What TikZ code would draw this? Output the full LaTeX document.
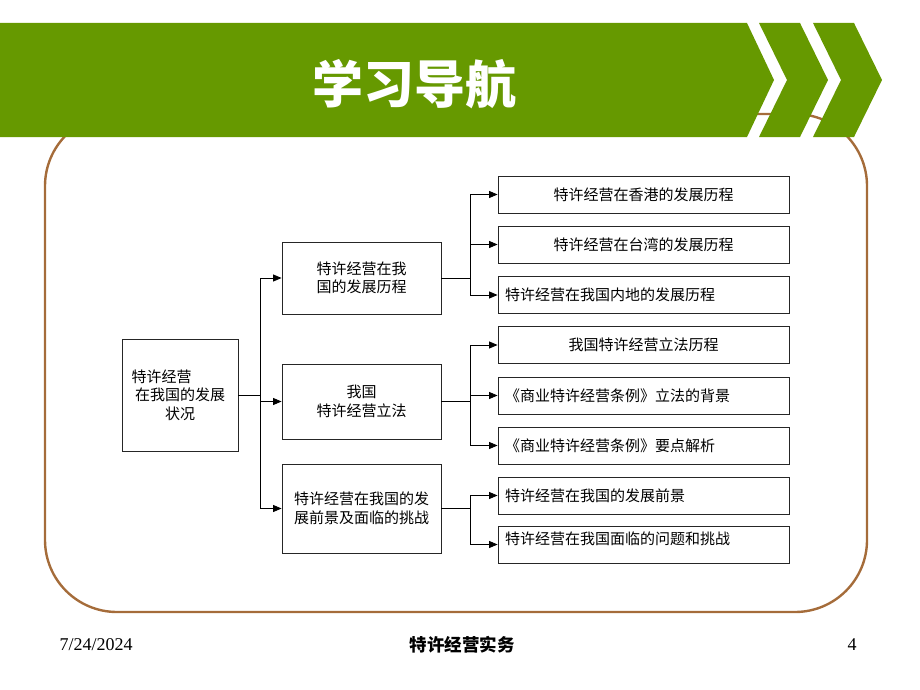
\documentclass[tikz,border=0pt]{standalone}
\usepackage{fontspec}
\setmainfont{Liberation Serif}
\newfontfamily\cjk{Noto Sans CJK SC}
\usetikzlibrary{arrows.meta}

\definecolor{barGreen}{RGB}{102,153,0}
\definecolor{frameBrown}{RGB}{165,108,58}

\begin{document}
\begin{tikzpicture}[x=1pt, y=-1pt,
    box/.style={draw=black!85, line width=0.8pt, inner sep=0pt, align=center,
      font=\cjk\fontsize{15}{18.5}\selectfont},
    midbox/.style={box, minimum width=159pt},
    leaf/.style={box, minimum width=291pt, minimum height=37pt},
    leftleaf/.style={leaf, text width=277pt, align=left},
    link/.style={line width=0.9pt, -{Triangle[length=8.5pt,width=7pt]}}]
  \useasboundingbox (0,0) rectangle (920,690);

  % frame and header
  \draw[frameBrown, line width=2.4pt, rounded corners=72pt] (45,114) rectangle (867,612);
  \fill[barGreen] (0,23) -- (747,23) -- (774,80) -- (747,137) -- (0,137) -- cycle;
  \fill[barGreen] (759,23) -- (800,23) -- (828,80) -- (800,137) -- (759,137) -- (787,80) -- cycle;
  \fill[barGreen] (813,23) -- (854,23) -- (882,80) -- (854,137) -- (813,137) -- (841,80) -- cycle;
  \node[text=white, font=\cjk\bfseries\fontsize{51}{51}\selectfont] (title) at (414,84) {学习导航};

  % tree
  \node[box, minimum width=116pt, minimum height=112pt] (root) at (180,395)
    {\hspace*{-6pt}\makebox[91pt][l]{特许经营}\\在我国的发展\\状况};

  \node[midbox, minimum height=72pt] (m1) at (361.5,278) {特许经营在我\\国的发展历程};
  \node[midbox, minimum height=75pt] (m2) at (361.5,401.5) {我国\\特许经营立法};
  \node[midbox, minimum height=89pt] (m3) at (361.5,508.5) {特许经营在我国的发\\展前景及面临的挑战};

  \node[leaf] (l1) at (643.5,194.5) {特许经营在香港的发展历程};
  \node[leaf] (l2) at (643.5,244.5) {特许经营在台湾的发展历程};
  \node[leftleaf] (l3) at (643.5,295) {特许经营在我国内地的发展历程};
  \node[leaf] (l4) at (643.5,345) {我国特许经营立法历程};
  \node[leftleaf] (l5) at (643.5,395.5) {《商业特许经营条例》立法的背景};
  \node[leftleaf] (l6) at (643.5,445.5) {《商业特许经营条例》要点解析};
  \node[leftleaf] (l7) at (643.5,495.5) {特许经营在我国的发展前景};
  \node[leftleaf] (l8) at (643.5,544.5) {\raisebox{13pt}{特许经营在我国面临的问题和挑战}};

  \foreach \m in {m1,m2,m3}
    \draw[link] (root.east) -- ++(22,0) |- (\m.west);
  \foreach \l in {l1,l2,l3}
    \draw[link] (m1.east) -- ++(29,0) |- (\l.west);
  \foreach \l in {l4,l5,l6}
    \draw[link] (m2.east) -- ++(29,0) |- (\l.west);
  \foreach \l in {l7,l8}
    \draw[link] (m3.east) -- ++(29,0) |- (\l.west);

  % footer
  \node[font=\fontsize{18}{18}\selectfont] (date) at (96,645) {7/24/2024};
  \node[font=\cjk\bfseries\fontsize{17.5}{18}\selectfont] (course) at (462,645) {特许经营实务};
  \node[font=\fontsize{18}{18}\selectfont] (page) at (852,645) {4};
\end{tikzpicture}
\end{document}
